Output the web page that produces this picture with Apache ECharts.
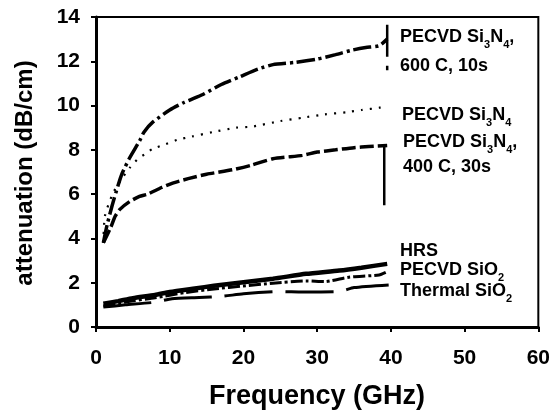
<!DOCTYPE html>
<html>
<head>
<meta charset="utf-8">
<script src="https://cdn.jsdelivr.net/npm/echarts@6/dist/echarts.min.js"></script>
<style>html,body{margin:0;padding:0;background:#fff}#c{width:553px;height:413px}</style>
</head>
<body>
<div id="c"></div>
<script>
// Data (x: GHz, y: dB/cm)
var xTicks = [0, 10, 20, 30, 40, 50, 60];
var yTicks = [0, 2, 4, 6, 8, 10, 12, 14];

var si3n4_600 = [[1.0,3.8],[1.5,4.6],[2.2,5.5],[3.0,6.4],[3.5,6.9],[4.5,7.6],[5.9,8.4],[6.5,8.8],[7.7,9.25],[10,9.8],[12,10.15],[14.5,10.5],[17,10.95],[19.5,11.3],[22,11.65],[24,11.85],[27,11.95],[30,12.1],[32.5,12.3],[34.7,12.5],[36.6,12.62],[38.4,12.7],[39.5,13.0]];
var si3n4_600_spike = [[39.5,13.65],[39.5,12.2]];
var si3n4_600_dot = [[39.5,11.8],[39.5,11.6]];
var si3n4 = [[1.0,3.8],[1.2,5.0],[2.3,6.05],[3.5,6.7],[4.6,7.2],[5.7,7.6],[6.6,7.8],[7.7,8.05],[9,8.2],[11,8.45],[13,8.6],[15.8,8.8],[19,9.0],[21.2,9.05],[25,9.3],[28,9.45],[31,9.6],[34,9.7],[36,9.8],[38.4,9.9],[39.5,10.0]];
var si3n4_400 = [[1.0,3.8],[2.0,4.5],[2.6,5.0],[3.2,5.3],[4.5,5.65],[5.9,5.9],[7,6.0],[8.9,6.3],[10.4,6.5],[12.5,6.7],[15,6.9],[18.5,7.1],[21,7.3],[24,7.6],[28,7.75],[30,7.9],[32.5,8.0],[35,8.1],[37,8.15],[39.5,8.2]];
var si3n4_400_drop = [[39.1,8.15],[39.1,5.5]];
var hrs = [[1,1.05],[3,1.17],[5,1.3],[8,1.45],[10,1.58],[13.4,1.74],[16,1.86],[20,2.02],[24,2.18],[28.5,2.4],[33,2.55],[36,2.68],[39.5,2.85]];
var pecvdSiO2 = [[1,0.95],[3,1.07],[5,1.18],[8,1.32],[12,1.55],[16,1.72],[20,1.85],[24,1.98],[28.5,2.08],[31,2.05],[34.3,2.25],[38.4,2.35],[39.5,2.5]];
var thermalSiO2 = [[1,0.9],[4,1.0],[8,1.12],[10.3,1.28],[14,1.33],[17,1.38],[20,1.5],[25,1.6],[28,1.58],[33,1.6],[35,1.78],[39.7,1.9]];

var FONT = '"Liberation Sans", Arial, sans-serif';
var chart = echarts.init(document.getElementById('c'));

function line(data, width, type, smooth) {
  return {
    type: 'line', data: data, showSymbol: false, symbol: 'none',
    smooth: smooth === undefined ? 0.2 : smooth,
    lineStyle: {color: '#000', width: width, type: type, cap: 'butt'},
    silent: true
  };
}

var sub = {fontSize: 11, fontWeight: 'bold', fontFamily: FONT, color: '#000', lineHeight: 11, padding: [11, 0, 0, 0], verticalAlign: 'top'};
var main = {fontSize: 18, fontWeight: 'bold', fontFamily: FONT, color: '#000', lineHeight: 18, verticalAlign: 'top'};

function label(x, y, text) {
  return {
    type: 'text', left: x, top: y,
    style: {text: text, rich: {a: main, s: sub}, fill: '#000', font: 'bold 18px ' + FONT}
  };
}

chart.setOption({
  animation: false,
  backgroundColor: '#fff',
  grid: {left: 96, right: 13, top: 17, bottom: 86, show: true, borderColor: '#000', borderWidth: 2, containLabel: false},
  xAxis: {
    type: 'value', min: xTicks[0], max: xTicks[xTicks.length - 1], interval: 10,
    axisLine: {show: true, onZero: false, lineStyle: {color: '#000', width: 3}},
    axisTick: {show: true, inside: false, length: 5, lineStyle: {color: '#000', width: 2}},
    axisLabel: {color: '#000', fontSize: 21, fontWeight: 'bold', fontFamily: FONT, margin: 21},
    splitLine: {show: false}
  },
  yAxis: {
    type: 'value', min: yTicks[0], max: yTicks[yTicks.length - 1], interval: 2,
    axisLine: {show: true, onZero: false, lineStyle: {color: '#000', width: 3}},
    axisTick: {show: true, inside: false, length: 5, lineStyle: {color: '#000', width: 2}},
    axisLabel: {color: '#000', fontSize: 21, fontWeight: 'bold', fontFamily: FONT, margin: 16},
    splitLine: {show: false}
  },
  series: [
    line(si3n4_600, 3.5, [18, 4, 3, 4]),
    line(si3n4_600_spike, 2.5, 'solid', false),
    line(si3n4_600_dot, 2.5, 'solid', false),
    line(si3n4, 2.2, [2, 7]),
    line(si3n4_400, 3.5, [14, 4]),
    line(si3n4_400_drop, 2.5, 'solid', false),
    line(hrs, 4.5, 'solid'),
    line(pecvdSiO2, 3, [12, 3, 3, 3]),
    line(thermalSiO2, 3, [48, 13])
  ],
  graphic: [
    {type: 'text', x: 25, y: 173, rotation: Math.PI / 2,
     style: {text: 'attenuation (dB/cm)', font: 'bold 24px ' + FONT, fill: '#000', textAlign: 'center', textVerticalAlign: 'middle', align: 'center', verticalAlign: 'middle'}},
    {type: 'text', x: 317, y: 397,
     style: {text: 'Frequency (GHz)', font: 'bold 27px ' + FONT, fill: '#000', textAlign: 'center', textVerticalAlign: 'middle', align: 'center', verticalAlign: 'middle'}},
    label(400, 28, '{a|PECVD Si}{s|3}{a|N}{s|4}{a|,}'),
    label(400, 57, '{a|600 C, 10s}'),
    label(402, 106, '{a|PECVD Si}{s|3}{a|N}{s|4}'),
    label(403, 133, '{a|PECVD Si}{s|3}{a|N}{s|4}{a|,}'),
    label(403, 158, '{a|400 C, 30s}'),
    label(400, 242, '{a|HRS}'),
    label(400, 261, '{a|PECVD SiO}{s|2}'),
    label(400, 282, '{a|Thermal SiO}{s|2}')
  ]
});
</script>
</body>
</html>
